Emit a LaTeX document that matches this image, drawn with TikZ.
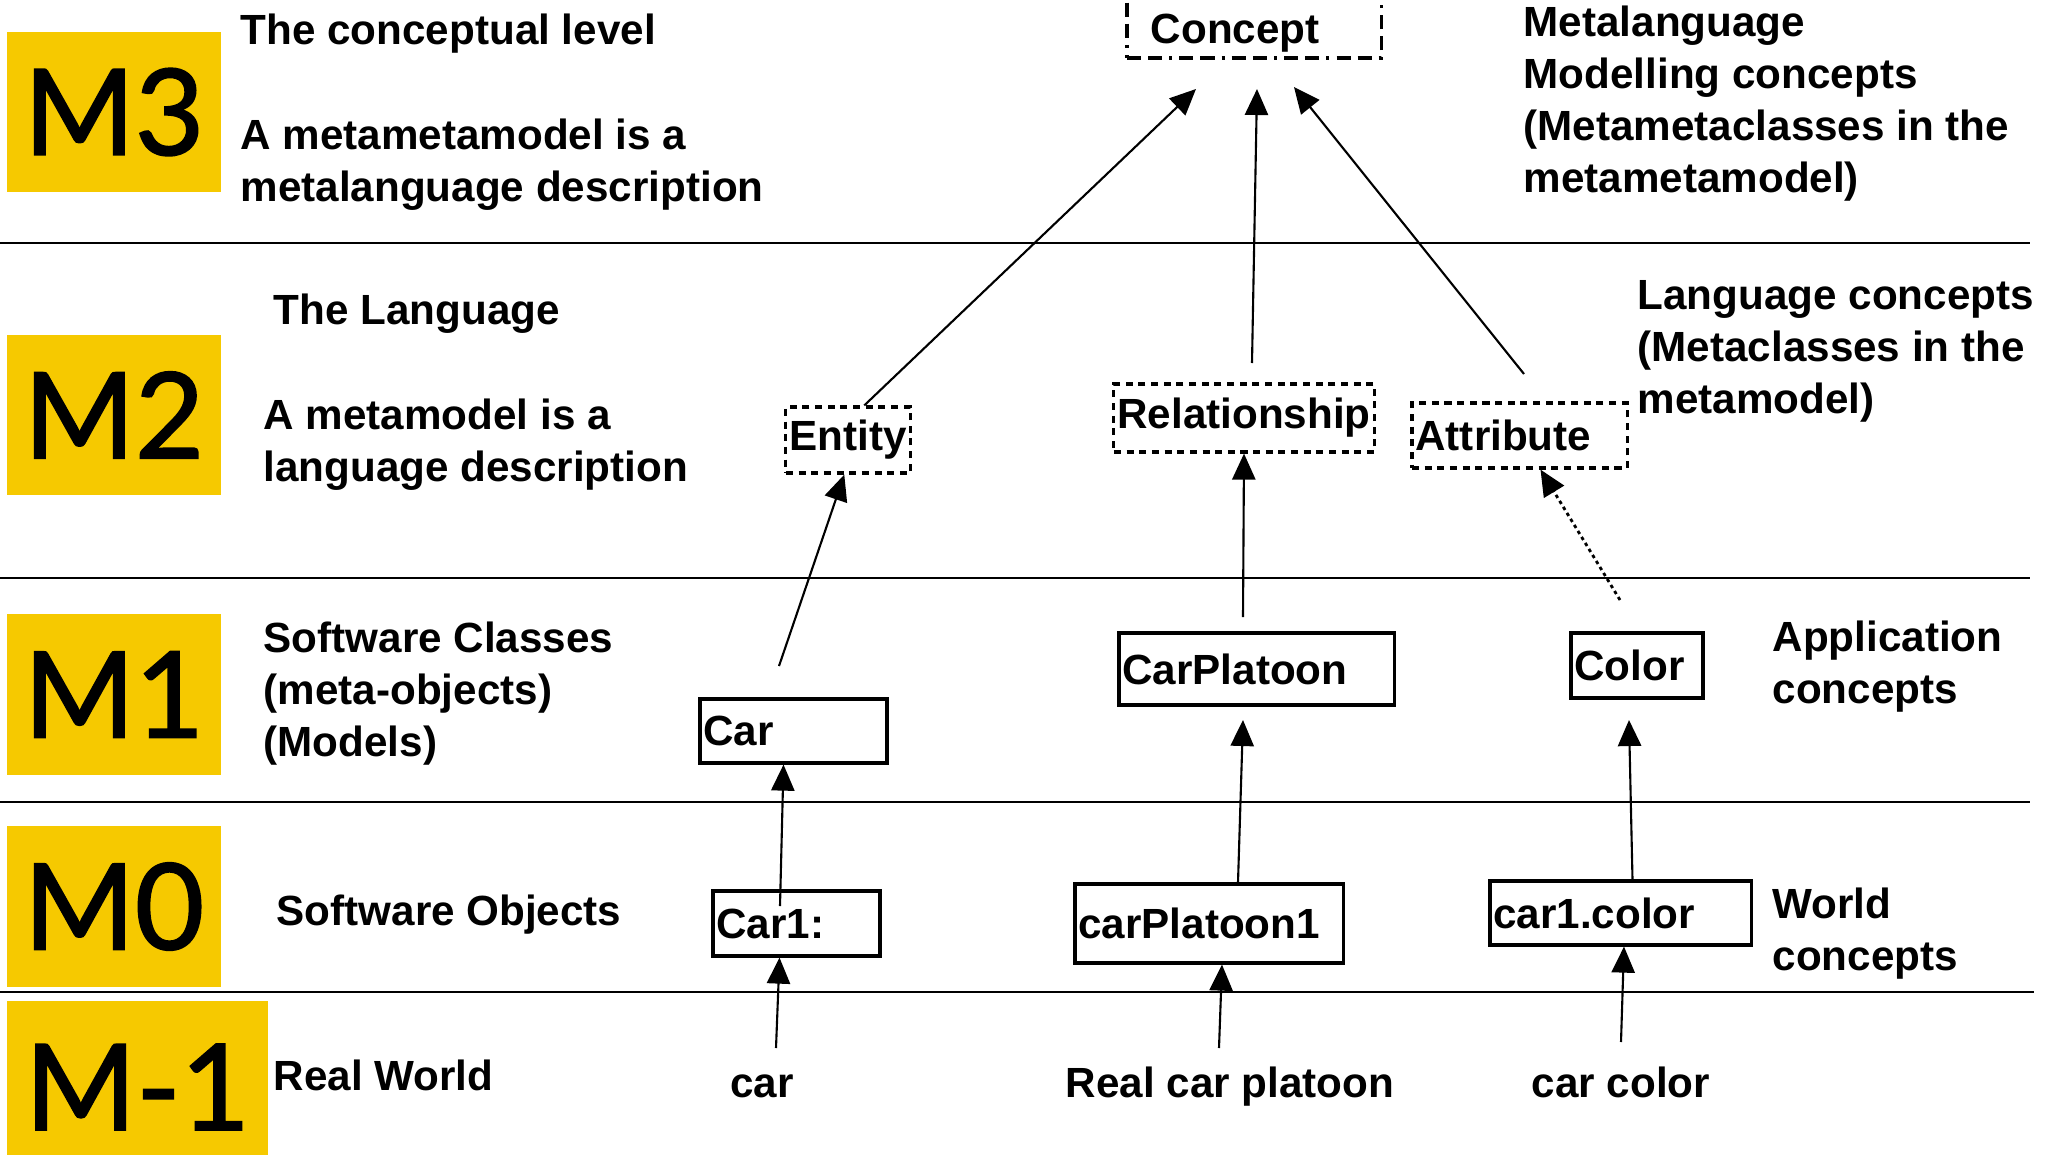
\documentclass[tikz,border=0pt]{standalone}
\usepackage{fontspec}
\setmainfont{Liberation Sans}
\newfontfamily\levelfont[FakeBold=1.5]{Lato}
\usetikzlibrary{arrows.meta,calc}
\definecolor{levelyellow}{RGB}{246,201,0}
\hyphenpenalty=10000
\exhyphenpenalty=10000

\begin{document}
\begin{tikzpicture}[x=0.01cm,y=-0.01cm,
  every node/.style={font=\bfseries\fontsize{12}{14.8}\selectfont},
  txt/.style={anchor=north west, inner sep=0pt, align=left},
  level/.style={fill=levelyellow, inner sep=0pt, font=\levelfont\fontsize{34}{40}\selectfont},
  sepline/.style={line width=0.7pt},
  solidbox/.style={draw, line width=0.9pt, inner xsep=1pt, inner ysep=0pt, align=left},
  dotbox/.style={draw, line width=0.9pt, dash pattern=on 2pt off 1.6pt, inner xsep=1pt, inner ysep=0pt},
  conceptbox/.style={draw, line width=0.9pt, dash pattern=on 4pt off 2pt on 4pt off 2pt on 0.9pt off 2pt, align=left},
  arr/.style={line width=0.6pt, -{Triangle[length=7.4pt,width=6.6pt]}},
  dotarr/.style={arr, line width=0.8pt, dash pattern=on 1pt off 1pt},
]
\useasboundingbox (0,0) rectangle (2060,1154);
\clip (0,0) rectangle (2060,1154);

% level separators
\draw[sepline] (0,243) -- (2030,243);
\draw[sepline] (0,578) -- (2030,578);
\draw[sepline] (0,802) -- (2030,802);
\draw[sepline] (0,992) -- (2034,992);

% level badges
\node[level, minimum width=2.14cm, minimum height=1.60cm] (m3) at (114,112) {M3};
\node[level, minimum width=2.14cm, minimum height=1.60cm] (m2) at (114,415) {M2};
\node[level, minimum width=2.14cm, minimum height=1.61cm] (m1) at (114,694.5) {M1};
\node[level, minimum width=2.14cm, minimum height=1.61cm] (m0) at (114,906.5) {M0};
\node[level, minimum width=2.61cm, minimum height=1.72cm] (mminus1) at (137.5,1087) {M-1};

% level descriptions
\node[txt] (m3title) at (240,13) {The conceptual level};
\node[txt] (m3desc) at (240,118) {A metametamodel is a\\metalanguage description};
\node[txt] (m3right) at (1523,5) {Metalanguage\\Modelling concepts\\(Metametaclasses in the\\metametamodel)};
\node[txt] (m2title) at (273,293) {The Language};
\node[txt] (m2desc) at (263,398) {A metamodel is a\\language description};
\node[txt] (m2right) at (1637,280) {Language concepts\\(Metaclasses in the\\metamodel)};
\node[txt] (m1left) at (263,621) {Software Classes\\(meta-objects)\\(Models)};
\node[txt] (m1right) at (1772,620) {Application\\concepts};
\node[txt] (m0left) at (276,894) {Software Objects};
\node[txt] (m0right) at (1772,887) {World\\concepts};
\node[txt] (mm1left) at (273,1059) {Real World};

% M3: metametaclass
\node[conceptbox, text width=2.06cm, inner xsep=0.24cm, inner ysep=1pt,
      text height=20pt, text depth=3pt] (concept) at (1254,14) {Concept};

% M2: metaclasses
\node[dotbox, minimum width=1.22cm, minimum height=0.66cm] (entity) at (848,440) {Entity};
\node[dotbox, minimum width=2.60cm, minimum height=0.68cm] (relationship) at (1244,418) {Relationship};
\node[dotbox, align=left, text width=2.08cm, minimum height=0.65cm] (attribute) at (1519.5,435.5) {Attribute};

% M1: classes
\node[solidbox, text width=1.80cm, minimum height=0.64cm] (car) at (793.5,731) {Car};
\node[solidbox, text width=2.68cm, minimum height=0.72cm] (carplatoon) at (1256.5,669) {CarPlatoon};
\node[solidbox, text width=1.25cm, minimum height=0.65cm] (color) at (1637,665.5) {Color};

% M0: objects
\node[solidbox, text width=1.60cm, minimum height=0.65cm] (car1) at (796.5,923.5) {Car1:};
\node[solidbox, text width=2.61cm, minimum height=0.79cm] (carplatoon1) at (1209,923.5) {carPlatoon1};
\node[solidbox, text width=2.54cm, minimum height=0.64cm] (car1color) at (1620.5,913) {car1.color};

% M-1: real things
\node[anchor=base] (realcar) at (762,1097) {car};
\node[anchor=base] (realplatoon) at (1230,1097) {Real car platoon};
\node[anchor=base] (realcolor) at (1621,1097) {car color};

% free connector ends
\coordinate (toconceptE) at (1196,89);
\coordinate (toconceptR) at (1257,89);
\coordinate (toconceptA) at (1294,87);
\coordinate (fromrel) at (1252,363);
\coordinate (fromattr) at (1524,374);
\coordinate (fromcar) at (779,666);
\coordinate (fromcarplatoon) at (1243,617);
\coordinate (fromcolor) at (1620,600);
\coordinate (fromcarone) at (780,906);
\coordinate (tocarplatoon) at (1243,720);
\coordinate (tocolor) at (1629,720);
\coordinate (fromrealcar) at (776,1048);
\coordinate (fromrealplatoon) at (1219,1048);
\coordinate (fromrealcolor) at (1621,1042);

% instance-of arrows, M2 -> M3
\draw[arr] ($(entity.north west)+(80,0)$) -- (toconceptE);
\draw[arr] (fromrel) -- (toconceptR);
\draw[arr] (fromattr) -- (toconceptA);

% M1 -> M2
\draw[arr] (fromcar) -- ($(entity.south west)+(60,0)$);
\draw[arr] (fromcarplatoon) -- (relationship.south);
\draw[dotarr] (fromcolor) -- ($(attribute.south)+(21,0)$);

% M0 -> M1
\draw[arr] (fromcarone) -- ($(car.south)+(-10,0)$);
\draw[arr] ($(carplatoon1.north)+(29,0)$) -- (tocarplatoon);
\draw[arr] ($(car1color.north)+(12,0)$) -- (tocolor);

% M-1 -> M0
\draw[arr] (fromrealcar) -- ($(car1.south)+(-17,0)$);
\draw[arr] (fromrealplatoon) -- ($(carplatoon1.south)+(13,0)$);
\draw[arr] (fromrealcolor) -- ($(car1color.south)+(3.5,0)$);
\end{tikzpicture}
\end{document}
